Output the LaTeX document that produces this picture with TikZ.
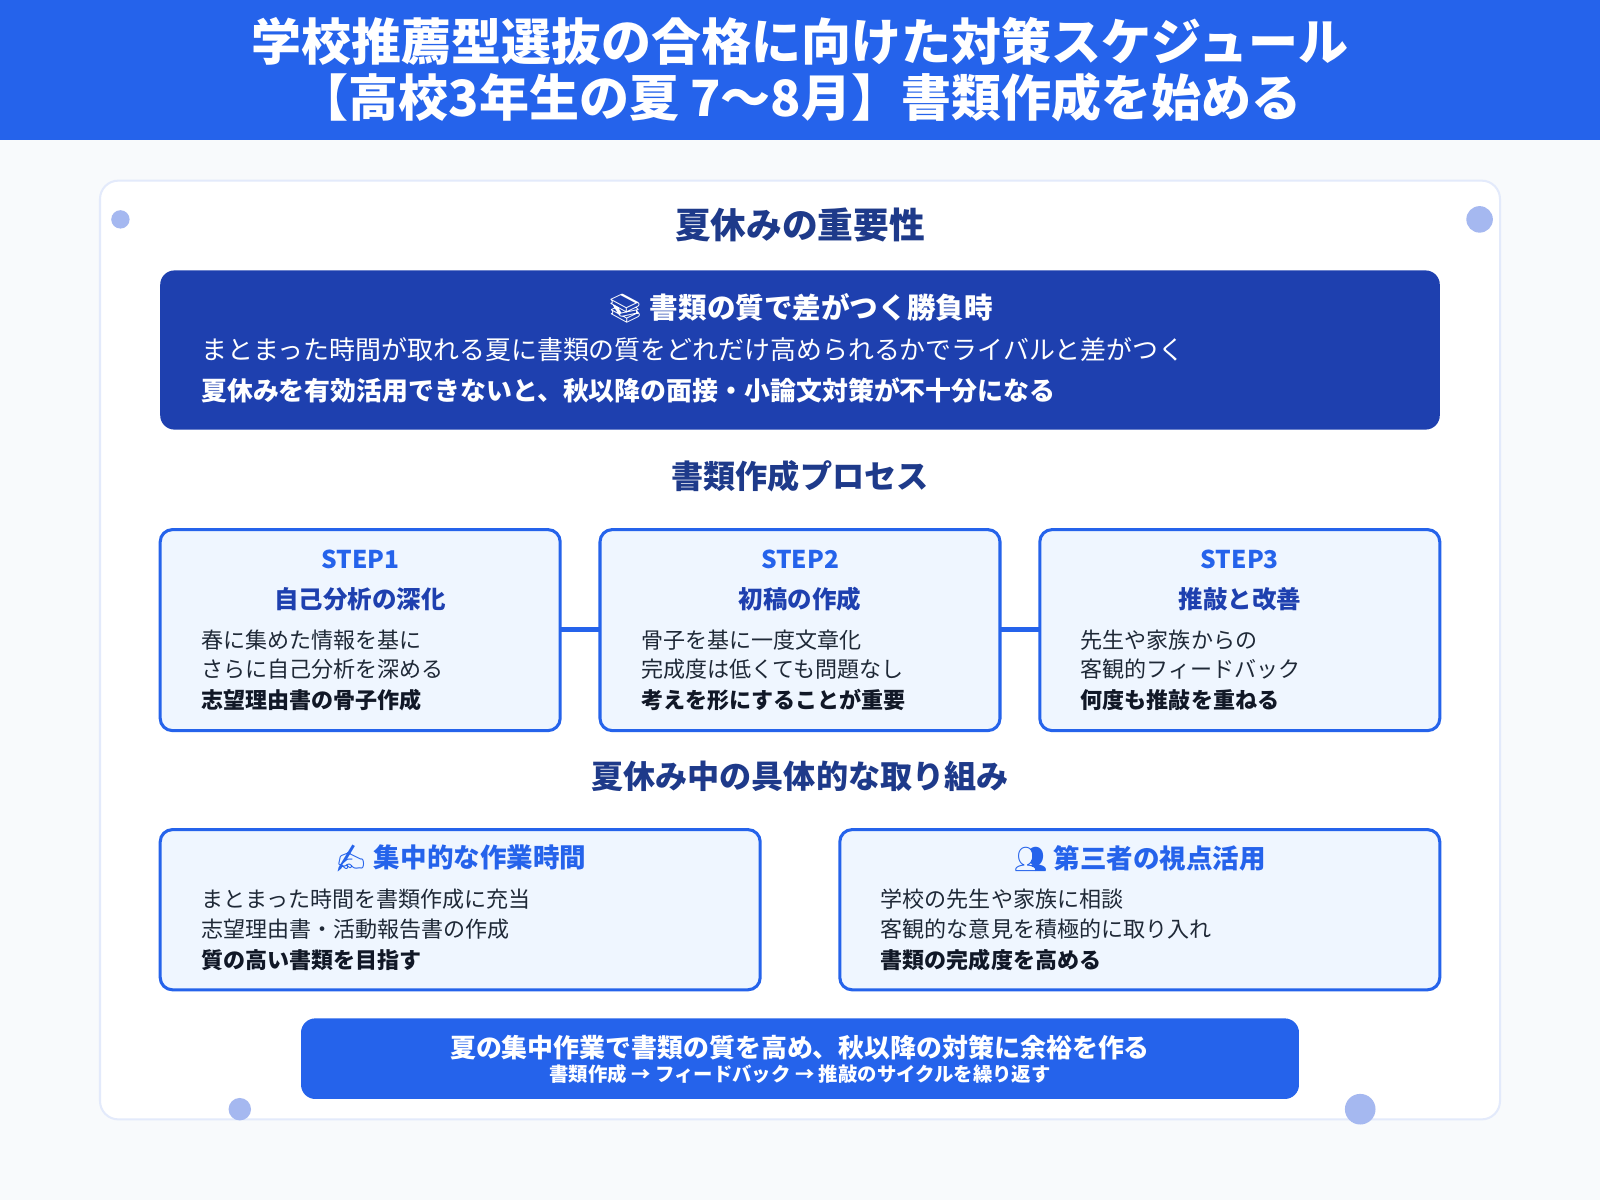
\documentclass[tikz,border=0pt]{standalone}
\usepackage{fontspec}
\setmainfont{Noto Sans CJK JP}
\newfontfamily\emojifont{Noto Emoji}
\usetikzlibrary{positioning}
\definecolor{hdrblue}{HTML}{2563EB}
\definecolor{navy}{HTML}{1E40AF}
\definecolor{deepnavy}{HTML}{1E3A8A}
\definecolor{pale}{HTML}{EFF6FF}
\definecolor{pagebg}{HTML}{F8FAFC}
\definecolor{dotblue}{HTML}{A5B8F0}
\definecolor{cardline}{HTML}{E3EAFB}
\definecolor{ink}{HTML}{111827}
\definecolor{bodyink}{HTML}{1F2937}
\newcommand{\fs}[1]{\fontsize{#1}{#1}\selectfont}
\tikzset{
  heading/.style={text=deepnavy, font=\fs{31.5}\bfseries},
  stepbox/.style={draw=hdrblue, line width=3pt, fill=pale, rounded corners=12pt},
  steplabel/.style={text=hdrblue, font=\fs{24}\bfseries},
  stepsub/.style={text=navy, font=\fs{24}\bfseries},
  bodyline/.style={anchor=west, inner sep=0pt, text=bodyink, font=\fs{21.6}},
  boldline/.style={anchor=west, inner sep=0pt, text=ink, font=\fs{21.6}\bfseries},
  dot/.style={fill=dotblue, draw=none},
}
\begin{document}
\begin{tikzpicture}[x=1pt, y=-1pt]
  % page and header
  \fill[pagebg] (0,0) rectangle (1568,1176);
  \useasboundingbox (0,0) rectangle (1568,1176);
  \fill[hdrblue] (0,0) rectangle (1568,137);
  \node[text=white, font=\fs{49}\bfseries, align=center] (title) at (784,68)
    {学校推薦型選抜の合格に向けた対策スケジュール\\[6pt]【高校3年生の夏 7〜8月】書類作成を始める};

  % card
  \draw[cardline, line width=2pt, fill=white, rounded corners=18pt] (98,177) rectangle (1470,1097);
  \fill[dot] (118,215) circle (9);
  \fill[dot] (1450,215) circle (13);
  \fill[dot] (235,1087) circle (11);
  \fill[dot] (1333,1087) circle (15);

  % importance
  \node[heading, font=\fs{35}\bfseries] (hImp) at (784,220) {夏休みの重要性};
  \fill[navy, rounded corners=14pt] (157,265) rectangle (1411,421);
  \node[text=white, font=\fs{28}\bfseries] (impTitle) at (784,302) {{\emojifont 📚} 書類の質で差がつく勝負時};
  \node[anchor=west, inner sep=0pt, text=white, font=\fs{25.4}] (imp1) at (197,343) {まとまった時間が取れる夏に書類の質をどれだけ高められるかでライバルと差がつく};
  \node[anchor=west, inner sep=0pt, text=white, font=\fs{25.4}\bfseries] (imp2) at (197,383) {夏休みを有効活用できないと、秋以降の面接・小論文対策が不十分になる};

  % process
  \node[heading] (hProc) at (784,467) {書類作成プロセス};
  \foreach \n/\x/\s/\t/\a/\b/\c in {
    1/157/STEP1/自己分析の深化/春に集めた情報を基に/さらに自己分析を深める/志望理由書の骨子作成,
    2/588/STEP2/初稿の作成/骨子を基に一度文章化/完成度は低くても問題なし/考えを形にすることが重要,
    3/1019/STEP3/推敲と改善/先生や家族からの/客観的フィードバック/何度も推敲を重ねる}{
    \draw[stepbox] (\x,519) rectangle ++(392,197);
    \coordinate (s\n w) at (\x,617);
    \coordinate (s\n e) at (\x+392,617);
    \node[steplabel] at (\x+196,548) {\s};
    \node[stepsub] at (\x+196,587) {\t};
    \node[bodyline] at (\x+40,627) {\a};
    \node[bodyline] at (\x+40,656) {\b};
    \node[boldline] at (\x+40,686) {\c};
  }
  \draw[hdrblue, line width=5pt] (s1e) -- (s2w);
  \draw[hdrblue, line width=5pt] (s2e) -- (s3w);

  % summer actions
  \node[heading] (hAct) at (784,761) {夏休み中の具体的な取り組み};
  \draw[stepbox] (157,813) rectangle (745,970);
  \node[steplabel, font=\fs{26}\bfseries] (actA) at (451,841) {{\emojifont ✍} 集中的な作業時間};
  \node[bodyline] at (197,881) {まとまった時間を書類作成に充当};
  \node[bodyline] at (197,911) {志望理由書・活動報告書の作成};
  \node[boldline] at (197,941) {質の高い書類を目指す};
  \draw[stepbox] (823,813) rectangle (1411,970);
  \node[steplabel, font=\fs{26}\bfseries] (actB) at (1117,841) {{\emojifont 👥} 第三者の視点活用};
  \node[bodyline] at (863,881) {学校の先生や家族に相談};
  \node[bodyline] at (863,911) {客観的な意見を積極的に取り入れ};
  \node[boldline] at (863,941) {書類の完成度を高める};

  % bottom bar
  \fill[hdrblue, rounded corners=14pt] (295,998) rectangle (1273,1077);
  \node[text=white, font=\fs{25.4}\bfseries] (sum1) at (784,1027) {夏の集中作業で書類の質を高め、秋以降の対策に余裕を作る};
  \node[text=white, font=\fs{19}\bfseries] (sum2) at (784,1053) {書類作成 → フィードバック → 推敲のサイクルを繰り返す};
\end{tikzpicture}
\end{document}
